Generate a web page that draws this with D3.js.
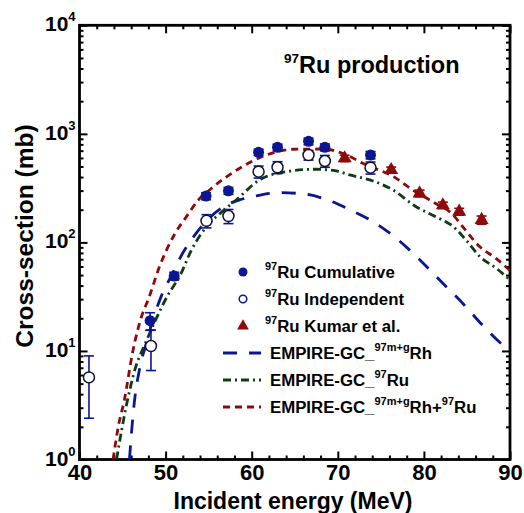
<!DOCTYPE html>
<html>
<head>
<meta charset="utf-8">
<script src="https://cdn.jsdelivr.net/npm/d3@7/dist/d3.min.js"></script>
<style>
  html, body { margin: 0; padding: 0; background: #fff; }
  svg { display: block; font-family: "Liberation Sans", Arial, sans-serif; font-weight: bold; }
</style>
</head>
<body>
<svg id="chart" width="524" height="513"></svg>
<script>
// Measured 97Ru production cross-sections (MeV, mb)
const cumEnergy = [48.2, 51.0, 54.7, 57.3, 60.8, 63.0, 66.6, 68.5, 73.8];
const cumSigma  = [19, 49, 267, 299, 676, 752, 853, 752, 638];
const cumErr    = [3.5, 4, 20, 22, 45, 50, 60, 55, 50];

const indEnergy = [41.1, 48.3, 54.75, 57.3, 60.8, 63.0, 66.6, 68.5, 73.8];
const indSigma  = [5.7, 11.1, 158, 175, 448, 492, 638, 562, 488];
const indErr    = [3.3, 4.5, 22, 26, 57, 62, 65, 70, 62];

const kumarEnergy = [70.8, 76.2, 79.5, 82.2, 84.1, 86.7];
const kumarSigma  = [595, 464, 283, 220, 192, 161];
const kumarErr    = [40, 30, 20, 15, 14, 14];

// EMPIRE-GC calculations
const rhEnergy = [45.8, 46.3, 47.0, 47.8, 48.5, 49.5, 50.7, 52.0, 53.5, 55.0, 56.7, 58.5, 60.5, 63.2, 66.0, 68.7, 71.4, 74.1, 76.8, 79.3, 82.2, 84.5, 86.8, 89.6, 90];
const rhSigma  = [1, 3, 7, 12, 19, 32, 50, 80, 120, 165, 213, 245, 268, 287, 280, 248, 200, 155, 109, 72, 42, 27.5, 17.3, 10.6, 10];

const ruEnergy = [44.3, 45.5, 46.5, 47.6, 48.8, 50.2, 51.7, 53.0, 54.75, 56.5, 58.2, 60.9, 64.0, 67.5, 69.8, 71.4, 74.1, 76.4, 79.1, 81.4, 83.4, 84.9, 86.5, 88.5, 90];
const ruSigma  = [1, 3.3, 7, 11.5, 19, 32, 50, 85, 140, 190, 246, 376, 448, 472, 455, 418, 368, 304, 213, 172, 140, 105, 74, 57, 45];

const sumEnergy = [43.9, 44.5, 45.2, 46.2, 47.2, 48.0, 49.3, 51.1, 52.4, 53.8, 55.1, 58.6, 61.7, 64.8, 68.3, 71.0, 72.9, 76.8, 78.7, 81.0, 83.4, 84.5, 86.5, 88.4, 90];
const sumSigma  = [1, 2, 3.5, 10, 20.7, 30, 60, 121, 172, 246, 304, 482, 638, 721, 725, 638, 535, 389, 304, 237, 179, 140, 91, 71, 55];

const xMajorTicks = [40, 50, 60, 70, 80, 90];
const yMajorTicks = [1, 10, 100, 1000, 10000];
const yExponents  = ["0", "1", "2", "3", "4"];

const svg = d3.select("#chart");
const plotLeft = 79.5, plotRight = 510, plotTop = 25.3, plotBottom = 459.5;

const x = d3.scaleLinear().domain([40, 90]).range([plotLeft, plotRight]);
const y = d3.scaleLog().domain([1, 10000]).range([plotBottom, plotTop]);

const navy = "#0b1690";
const green = "#0d3d12";
const red = "#8e0a0a";

// minor ticks
const xMinor = d3.range(40, 90.01, 2).filter(v => v % 10 !== 0);
const yMinor = [];
for (let d = 0; d < 4; d++) for (let k = 2; k <= 9; k++) yMinor.push(k * Math.pow(10, d));

function styleAxis(g) {
  g.select(".domain").remove();
  g.selectAll(".tick line").attr("stroke", "#000").attr("stroke-width", 2);
}

svg.append("g").attr("transform", `translate(0,${plotBottom})`)
  .call(d3.axisBottom(x).tickValues(xMajorTicks).tickSize(-8).tickFormat(d3.format("d")))
  .call(styleAxis)
  .call(g => g.selectAll("text").attr("font-size", 22).attr("font-family", "Liberation Sans, Arial, sans-serif")
    .attr("font-weight", "bold").attr("fill", "#000").attr("dy", "0.72em").attr("y", 5));
svg.append("g").attr("transform", `translate(0,${plotBottom})`)
  .call(d3.axisBottom(x).tickValues(xMinor).tickSize(-4).tickFormat(""))
  .call(styleAxis);
svg.append("g").attr("transform", `translate(0,${plotTop})`)
  .call(d3.axisTop(x).tickValues(xMajorTicks).tickSize(-8).tickFormat(""))
  .call(styleAxis);
svg.append("g").attr("transform", `translate(0,${plotTop})`)
  .call(d3.axisTop(x).tickValues(xMinor).tickSize(-4).tickFormat(""))
  .call(styleAxis);

svg.append("g").attr("transform", `translate(${plotLeft},0)`)
  .call(d3.axisLeft(y).tickValues(yMajorTicks).tickSize(-8).tickFormat(""))
  .call(styleAxis);
svg.append("g").attr("transform", `translate(${plotLeft},0)`)
  .call(d3.axisLeft(y).tickValues(yMinor).tickSize(-4).tickFormat(""))
  .call(styleAxis);
svg.append("g").attr("transform", `translate(${plotRight},0)`)
  .call(d3.axisRight(y).tickValues(yMajorTicks).tickSize(-8).tickFormat(""))
  .call(styleAxis);
svg.append("g").attr("transform", `translate(${plotRight},0)`)
  .call(d3.axisRight(y).tickValues(yMinor).tickSize(-4).tickFormat(""))
  .call(styleAxis);

// y tick labels as powers of ten
const yLab = svg.append("g").selectAll("text").data(yMajorTicks).join("text")
  .attr("x", 45).attr("y", d => y(d) + 6).attr("font-size", 21);
yLab.append("tspan").text("10");
yLab.append("tspan").attr("font-size", 13).attr("dy", -10).text((d, i) => yExponents[i]);

// frame
svg.append("rect").attr("x", plotLeft).attr("y", plotTop)
  .attr("width", plotRight - plotLeft).attr("height", plotBottom - plotTop)
  .attr("fill", "none").attr("stroke", "#000").attr("stroke-width", 2.8);

// curves
svg.append("clipPath").attr("id", "plotclip").append("rect")
  .attr("x", plotLeft).attr("y", plotTop).attr("width", plotRight - plotLeft).attr("height", plotBottom - plotTop);
const line = d3.line().x(d => x(d[0])).y(d => y(d[1])).curve(d3.curveMonotoneX);
const curves = [
  { e: rhEnergy, s: rhSigma, color: navy, dash: "14,12" },
  { e: ruEnergy, s: ruSigma, color: green, dash: "8,4,2,4" },
  { e: sumEnergy, s: sumSigma, color: red, dash: "7,5" }
];
const cg = svg.append("g").attr("clip-path", "url(#plotclip)");
curves.forEach(c => {
  cg.append("path").datum(d3.zip(c.e, c.s)).attr("d", line)
    .attr("fill", "none").attr("stroke", c.color).attr("stroke-width", 2.8)
    .attr("stroke-dasharray", c.dash);
});

// error bars
function errorBars(en, sg, er, color) {
  const g = svg.append("g").attr("stroke", color).attr("stroke-width", 1.6);
  en.forEach((e, i) => {
    const lo = Math.max(sg[i] - er[i], 1), hi = sg[i] + er[i];
    const cx = x(e);
    g.append("line").attr("x1", cx).attr("x2", cx).attr("y1", y(lo)).attr("y2", y(hi));
    g.append("line").attr("x1", cx - 5).attr("x2", cx + 5).attr("y1", y(lo)).attr("y2", y(lo));
    g.append("line").attr("x1", cx - 5).attr("x2", cx + 5).attr("y1", y(hi)).attr("y2", y(hi));
  });
}
errorBars(cumEnergy, cumSigma, cumErr, navy);
errorBars(indEnergy, indSigma, indErr, navy);
errorBars(kumarEnergy, kumarSigma, kumarErr, red);

svg.append("g").selectAll("circle").data(d3.zip(cumEnergy, cumSigma)).join("circle")
  .attr("cx", d => x(d[0])).attr("cy", d => y(d[1])).attr("r", 5.5).attr("fill", navy);
svg.append("g").selectAll("circle").data(d3.zip(indEnergy, indSigma)).join("circle")
  .attr("cx", d => x(d[0])).attr("cy", d => y(d[1])).attr("r", 5.5).attr("fill", "#fff")
  .attr("stroke", "#10103a").attr("stroke-width", 1.5);
const tri = d3.symbol().type(d3.symbolTriangle).size(85);
svg.append("g").selectAll("path").data(d3.zip(kumarEnergy, kumarSigma)).join("path")
  .attr("d", tri).attr("transform", d => `translate(${x(d[0])},${y(d[1])})`).attr("fill", red);

// title
const title = svg.append("text").attr("x", 284).attr("y", 73).attr("font-size", 23.5);
title.append("tspan").attr("font-size", 13.5).attr("dy", -10).text("97");
title.append("tspan").attr("dy", 10).text("Ru production");

// legend
const legendRows = [
  { kind: "filled", parts: [["sup", "97"], ["n", "Ru Cumulative"]] },
  { kind: "open", parts: [["sup", "97"], ["n", "Ru Independent"]] },
  { kind: "tri", parts: [["sup", "97"], ["n", "Ru Kumar et al."]] },
  { kind: "line", color: navy, dash: "14,12", parts: [["n", "EMPIRE-GC_"], ["sup", "97m+g"], ["n", "Rh"]] },
  { kind: "line", color: green, dash: "8,4,2,4", parts: [["n", "EMPIRE-GC_"], ["sup", "97"], ["n", "Ru"]] },
  { kind: "line", color: red, dash: "7,5", parts: [["n", "EMPIRE-GC_"], ["sup", "97m+g"], ["n", "Rh+"], ["sup", "97"], ["n", "Ru"]] }
];
const legendY = [272, 299, 326, 353, 380, 407];
const lg = svg.append("g");
legendRows.forEach((r, i) => {
  const cy = legendY[i];
  if (r.kind === "filled") lg.append("circle").attr("cx", 243).attr("cy", cy).attr("r", 4.5).attr("fill", navy);
  if (r.kind === "open") lg.append("circle").attr("cx", 243).attr("cy", cy).attr("r", 3.8).attr("fill", "#fff").attr("stroke", navy).attr("stroke-width", 1.5);
  if (r.kind === "tri") lg.append("path").attr("d", d3.symbol().type(d3.symbolTriangle).size(60)).attr("transform", `translate(243,${cy})`).attr("fill", red);
  if (r.kind === "line") lg.append("line").attr("x1", 223).attr("x2", 261).attr("y1", cy).attr("y2", cy)
    .attr("stroke", r.color).attr("stroke-width", 2.8).attr("stroke-dasharray", r.dash);
  const t = lg.append("text").attr("x", r.kind === "line" ? 270 : 265).attr("y", cy + 6).attr("font-size", 16.8);
  let raised = false;
  r.parts.forEach(p => {
    const sp = t.append("tspan").text(p[1]);
    if (p[0] === "sup") {
      sp.attr("font-size", 11);
      if (!raised) { sp.attr("dy", -8); raised = true; }
    } else if (raised) { sp.attr("dy", 8); raised = false; }
  });
});

// axis titles
svg.append("text").attr("x", 293).attr("y", 509).attr("text-anchor", "middle").attr("font-size", 23)
  .text("Incident energy (MeV)");
svg.append("text").attr("transform", "translate(33,236) rotate(-90)").attr("text-anchor", "middle")
  .attr("font-size", 24.5).text("Cross-section (mb)");
</script>
</body>
</html>
